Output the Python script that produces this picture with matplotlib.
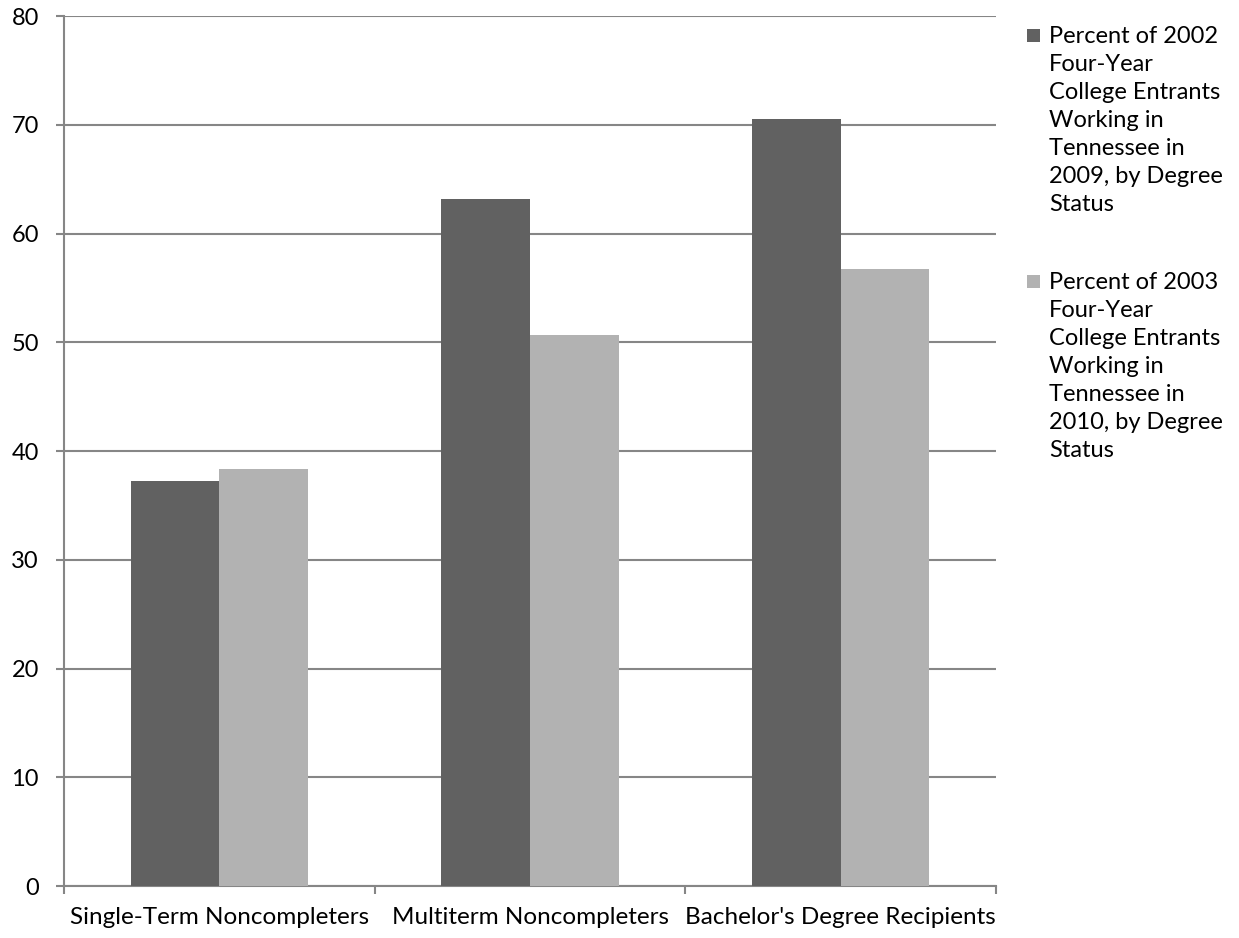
import matplotlib.pyplot as plt
import numpy as np
from matplotlib.patches import Rectangle

categories = ["Single-Term Noncompleters", "Multiterm Noncompleters", "Bachelor's Degree Recipients"]
pct_2002 = [37.2, 63.2, 70.5]
pct_2003 = [38.3, 50.7, 56.7]
labels = [
    "Percent of 2002\nFour-Year\nCollege Entrants\nWorking in\nTennessee in\n2009, by Degree\nStatus",
    "Percent of 2003\nFour-Year\nCollege Entrants\nWorking in\nTennessee in\n2010, by Degree\nStatus",
]
colors = ["#616161", "#b2b2b2"]
grid_color = "#868686"

plt.rcParams["font.family"] = ["Lato", "DejaVu Sans"]

W, H = 1239, 938
fig = plt.figure(figsize=(W / 100, H / 100), dpi=100)
ax = fig.add_axes([64 / W, 52 / H, (996 - 64) / W, (886 - 16) / H])

# bars: two per category, 150% gap like a spreadsheet chart
x = np.arange(len(categories))
w = 1 / 3.5
ax.bar(x - w / 2, pct_2002, width=w, color=colors[0], zorder=3)
ax.bar(x + w / 2, pct_2003, width=w, color=colors[1], zorder=3)

ax.set_xlim(-0.5, len(categories) - 0.5)
ax.set_ylim(0, 80)
ax.set_yticks(range(0, 81, 10))
ax.yaxis.grid(True, color=grid_color, linewidth=1.5, zorder=0)

# category labels centred, tick marks on the boundaries
ax.set_xticks(x)
ax.set_xticklabels(categories, fontsize=17.5)
ax.tick_params(axis="x", length=0, pad=15)
ax.set_xticks(np.arange(-0.5, len(categories)), minor=True)
ax.tick_params(axis="x", which="minor", length=6, width=1.5, color=grid_color)
ax.tick_params(axis="y", length=6, width=1.5, color=grid_color, labelsize=17, pad=12)

for side in ["top", "right"]:
    ax.spines[side].set_visible(False)
for side in ["left", "bottom"]:
    ax.spines[side].set_color(grid_color)
    ax.spines[side].set_linewidth(1.5)

# legend: square swatch beside the first line of each wrapped label
for i, (lab, c) in enumerate(zip(labels, colors)):
    top = 26 + i * 246
    fig.patches.append(Rectangle((1027 / W, 1 - (29 + i * 246 + 13) / H), 13 / W, 13 / H,
                                 transform=fig.transFigure, facecolor=c, edgecolor="none"))
    fig.text(1049 / W, 1 - top / H, lab, fontsize=17, va="top", ha="left", linespacing=1.41)

fig.savefig("out.png", dpi=100)
